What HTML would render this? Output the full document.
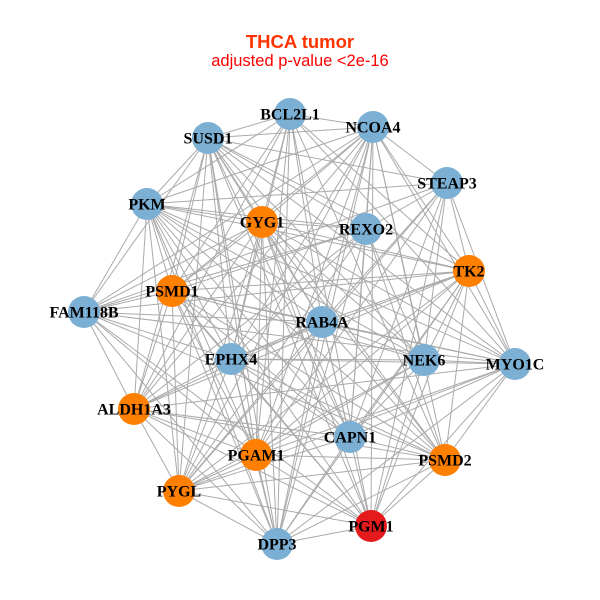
<!DOCTYPE html>
<html><head><meta charset="utf-8"><style>
html,body{margin:0;padding:0;background:#fff;width:600px;height:600px;overflow:hidden}
</style></head><body>
<svg id="s" width="600" height="600" xmlns="http://www.w3.org/2000/svg">
<rect width="600" height="600" fill="#fff"/>
<text x="300" y="48" text-anchor="middle" font-family="Liberation Sans, sans-serif" font-weight="bold" font-size="18.5" fill="#FF3300">THCA tumor</text>
<text x="300" y="66" text-anchor="middle" font-family="Liberation Sans, sans-serif" font-size="16.5" fill="#FF0000">adjusted p-value &lt;2e-16</text>
<g id="edges" stroke="#aaaaaa" stroke-width="1"></g>
<g id="nodes"></g>
</svg>
<script>
var N=[["BCL2L1",290,114,"b"],["NCOA4",373,127,"b"],["SUSD1",208,138,"b"],["STEAP3",447,183,"b"],["PKM",147,204,"b"],["GYG1",262,222,"o"],["REXO2",366,229,"b"],["TK2",469,271,"o"],["PSMD1",172,291,"o"],["FAM118B",84,312,"b"],["RAB4A",322,322,"b"],["EPHX4",231,359,"b"],["NEK6",424,360,"b"],["MYO1C",515,364,"b"],["ALDH1A3",134,409,"o"],["CAPN1",350,437,"b"],["PGAM1",256,455,"o"],["PSMD2",445,460,"o"],["PYGL",179,491,"o"],["PGM1",371,526,"r"],["DPP3",277,544,"b"]];
var C={b:"#7BAFD4",o:"#FF7F00",r:"#E41A1C"};
var ns="http://www.w3.org/2000/svg",E=document.getElementById("edges"),G=document.getElementById("nodes");
for(var i=0;i<N.length;i++)for(var j=i+1;j<N.length;j++){
 if((i*7+j*3)%9==0)continue;
 var l=document.createElementNS(ns,"line");
 l.setAttribute("x1",N[i][1]);l.setAttribute("y1",N[i][2]);l.setAttribute("x2",N[j][1]);l.setAttribute("y2",N[j][2]);E.appendChild(l);}
N.forEach(function(n){
 var c=document.createElementNS(ns,"circle");c.setAttribute("cx",n[1]);c.setAttribute("cy",n[2]);c.setAttribute("r",16);c.setAttribute("fill",C[n[3]]);G.appendChild(c);});
N.forEach(function(n){
 var t=document.createElementNS(ns,"text");t.setAttribute("x",n[1]);t.setAttribute("y",n[2]+5.5);t.setAttribute("text-anchor","middle");
 t.setAttribute("font-family","Liberation Serif, serif");t.setAttribute("font-weight","bold");t.setAttribute("font-size","16");t.textContent=n[0];G.appendChild(t);});
</script>
</body></html>
